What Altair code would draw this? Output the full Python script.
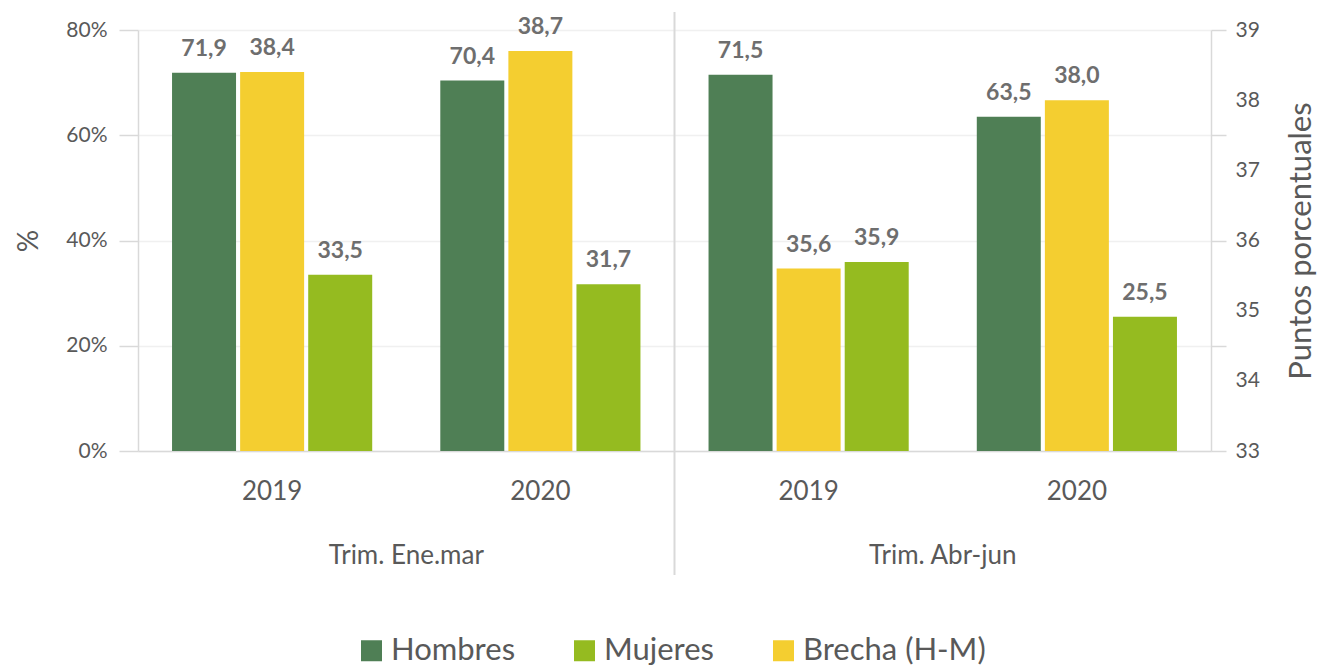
import altair as alt
import pandas as pd

# ---- data ----
groups = ["Trim. Ene.mar", "Trim. Ene.mar", "Trim. Abr-jun", "Trim. Abr-jun"]
years = ["2019", "2020", "2019", "2020"]
hombres = [71.9, 70.4, 71.5, 63.5]
mujeres = [33.5, 31.7, 35.9, 25.5]
brecha = [38.4, 38.7, 35.6, 38.0]

series = ["Hombres", "Mujeres", "Brecha (H-M)"]
colors = ["#4F7F55", "#95BB20", "#F4CE30"]
offset_order = ["Hombres", "Brecha (H-M)", "Mujeres"]

left_ticks = [0, 20, 40, 60, 80]
right_values = [33, 34, 34.5, 35, 36, 37, 37.5, 38, 39]

keys = [f"{g}|{y}" for g, y in zip(groups, years)]


def fmt(v):
    return f"{v:.1f}".replace(".", ",")


rows_hm = []
rows_b = []
for k, h, m, b in zip(keys, hombres, mujeres, brecha):
    rows_hm.append({"key": k, "serie": "Hombres", "valor": h, "label": fmt(h)})
    rows_hm.append({"key": k, "serie": "Mujeres", "valor": m, "label": fmt(m)})
    rows_b.append({"key": k, "serie": "Brecha (H-M)", "valor": b, "label": fmt(b)})
df_hm = pd.DataFrame(rows_hm)
df_b = pd.DataFrame(rows_b)
df_groups = pd.DataFrame({"key": [keys[0], keys[2]], "grupo": [groups[0], groups[2]]})
df_sep = pd.DataFrame({"key": [keys[1]]})

W, H = 1073, 421
GRAY = "#D9D9D9"
TXT = "#595959"

x_scale = alt.Scale(domain=keys, paddingInner=0, paddingOuter=0)
x_axis = alt.Axis(
    labelExpr="split(datum.label, '|')[1]",
    ticks=False,
    domainColor=GRAY,
    domainWidth=1.5,
    labelFontSize=26,
    labelPadding=27,
    labelAngle=0,
    title=None,
    grid=False,
)


def xenc(band=None):
    if band is None:
        return alt.X("key:N", scale=x_scale, axis=x_axis, sort=keys)
    return alt.X("key:N", scale=x_scale, axis=x_axis, sort=keys, bandPosition=band)


xoff = alt.XOffset(
    "serie:N",
    scale=alt.Scale(domain=offset_order, paddingInner=0.06, paddingOuter=0.5),
)
color = alt.Color(
    "serie:N",
    scale=alt.Scale(domain=series, range=colors),
    legend=alt.Legend(
        orient="none",
        legendX=218,
        legendY=605,
        direction="horizontal",
        columns=3,
        title=None,
        symbolType="square",
        symbolSize=441,
        symbolStrokeWidth=0,
        labelFontSize=31,
        labelColor=TXT,
        labelLimit=0,
        columnPadding=53,
        labelOffset=4,
    ),
)

left_scale = alt.Scale(domain=[0, 80])
right_scale = alt.Scale(domain=[33, 39], zero=False)

left_axis = alt.Axis(
    values=left_ticks,
    labelExpr="datum.value + '%'",
    tickSize=19,
    tickColor=GRAY,
    tickWidth=1.5,
    domainColor=GRAY,
    domainWidth=1.5,
    labelPadding=12,
    labelFontSize=21,
    grid=True,
    gridColor="#F0F0F0",
    gridWidth=1.5,
    title="%",
    titleFontSize=28,
    titlePadding=22,
)
right_axis = alt.Axis(
    orient="right",
    values=right_values,
    labelExpr="datum.value % 1 == 0 ? format(datum.value, 'd') : ''",
    labelOverlap=False,
    tickOpacity={"condition": {"test": "(datum.value - 33) % 1.5 == 0", "value": 1}, "value": 0},
    tickSize=15,
    tickColor=GRAY,
    tickWidth=1.5,
    domainColor=GRAY,
    domainWidth=1.5,
    labelPadding=9,
    labelFontSize=21,
    grid=False,
    title="Puntos porcentuales",
    titleFontSize=31,
    titleAngle=270,
    titlePadding=58,
)

bars_hm = alt.Chart(df_hm).mark_bar().encode(
    x=xenc(),
    xOffset=xoff,
    y=alt.Y("valor:Q", scale=left_scale, axis=left_axis),
    color=color,
)
text_hm = alt.Chart(df_hm).mark_text(
    baseline="bottom", dy=-12, fontSize=23, fontWeight="bold", color="#6E6E6E"
).encode(
    x=xenc(),
    xOffset=xoff,
    y=alt.Y("valor:Q", scale=left_scale, axis=None),
    text="label:N",
)
bars_b = alt.Chart(df_b).mark_bar().encode(
    x=xenc(),
    xOffset=xoff,
    y=alt.Y("valor:Q", scale=right_scale, axis=right_axis),
    y2=alt.datum(33),
    color=color,
)
text_b = alt.Chart(df_b).mark_text(
    baseline="bottom", dy=-12, fontSize=23, fontWeight="bold", color="#6E6E6E"
).encode(
    x=xenc(),
    xOffset=xoff,
    y=alt.Y("valor:Q", scale=right_scale, axis=None),
    text="label:N",
)
group_text = alt.Chart(df_groups).mark_text(
    baseline="middle", align="center", fontSize=26, color=TXT
).encode(
    x=xenc(1),
    y=alt.value(H + 105),
    text="grupo:N",
)
sep = alt.Chart(df_sep).mark_rule(color=GRAY, strokeWidth=2).encode(
    x=xenc(1),
    y=alt.value(-18),
    y2=alt.value(H + 124),
)

chart = (
    alt.layer(sep, bars_hm, bars_b, text_hm, text_b, group_text)
    .resolve_scale(y="independent")
    .properties(
        width=W,
        height=H,
        autosize=alt.AutoSizeParams(type="none"),
        padding={"left": 130, "top": 22, "right": 108, "bottom": 218},
    )
    .configure(font="Lato")
    .configure_view(stroke=None)
    .configure_axis(labelColor=TXT, titleColor=TXT, titleFontWeight="normal")
)

chart.save("out.html", embed_options={"renderer": "svg", "actions": False})
